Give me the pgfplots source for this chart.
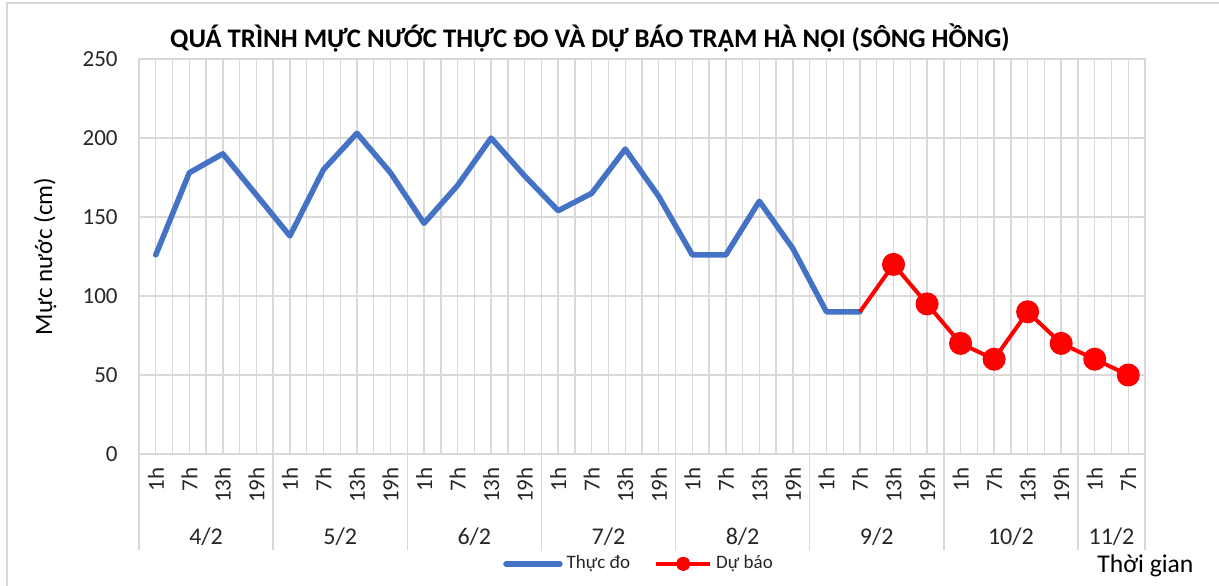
\documentclass[border=0pt]{standalone}
\usepackage{fontspec}
\setmainfont{Carlito}
\usepackage{pgfplots}
\pgfplotsset{compat=1.18}
\definecolor{gridgray}{HTML}{D9D9D9}
\definecolor{xlblue}{HTML}{4472C4}
\definecolor{txtgray}{HTML}{262626}
\begin{document}
\begin{tikzpicture}
\path[use as bounding box] (0,0) rectangle (609.5pt,292.5pt);
\clip (0,0) rectangle (609.5pt,292.5pt);
\draw[gridgray, line width=0.8pt] (3.5pt,-5pt) -- (3.5pt,291pt) -- (620pt,291pt);
\node[font=\bfseries\fontsize{13.4}{15}\selectfont, text=black] at (295pt,273.5pt) {QUÁ TRÌNH MỰC NƯỚC THỰC ĐO VÀ DỰ BÁO TRẠM HÀ NỘI (SÔNG HỒNG)};
\node[font=\fontsize{12.5}{14}\selectfont, text=black, rotate=90] at (22.5pt,164.25pt) {Mực nước (cm)};
\node[font=\fontsize{12.8}{14}\selectfont, text=black, anchor=west, inner sep=0pt] at (548.5pt,9.5pt) {Thời gian};
\begin{axis}[
  at={(69.5pt,65.5pt)}, anchor=south west,
  scale only axis, width=503pt, height=197.5pt,
  xmin=-0.5, xmax=29.5, ymin=0, ymax=250,
  ytick={0,50,...,250},
  xtick={0,...,29},
  xticklabels={1h,7h,13h,19h,1h,7h,13h,19h,1h,7h,13h,19h,1h,7h,13h,19h,1h,7h,13h,19h,1h,7h,13h,19h,1h,7h,13h,19h,1h,7h},
  minor xtick={-0.5,0.5,...,29.5},
  grid=both,
  major grid style={gridgray, line width=0.7pt},
  minor grid style={gridgray, line width=0.7pt},
  axis line style={gridgray, line width=0.7pt},
  major tick length=0pt, minor tick length=0pt,
  /pgf/number format/assume math mode=true,
  ticklabel style={font=\fontsize{11.5}{13}\selectfont, text=txtgray},
  xticklabel style={rotate=90, anchor=east, inner sep=0pt},
  xticklabel shift=6.5pt,
  yticklabel style={anchor=east, inner sep=0pt},
  yticklabel shift=10.5pt,
  clip=false,
  legend style={at={(0.498,-0.278)}, anchor=center, draw=none, fill=none,
    font=\fontsize{9.5}{11}\selectfont, text=txtgray,
    legend columns=2, /tikz/every even column/.append style={column sep=10pt}},
]
\addplot[xlblue, line width=2.75pt, line join=round, line cap=round,
  legend image code/.code={\draw[xlblue, line width=2.75pt, line cap=round] (0pt,0pt) -- (27pt,0pt);}]
  coordinates {(0,126) (1,178) (2,190) (3,164) (4,138) (5,180) (6,203) (7,178)
  (8,146) (9,170) (10,200) (11,176) (12,154) (13,165) (14,193) (15,163)
  (16,126) (17,126) (18,160) (19,130) (20,90) (21,90)};
\addlegendentry{Thực đo}
\addplot[red, line width=2pt, line join=round, mark=*, mark size=4.75pt,
  mark options={fill=red, draw=red}, mark indices={2,...,9},
  legend image code/.code={\draw[red, line width=2pt] (0pt,0pt) -- (27pt,0pt); \fill[red] (13.5pt,0pt) circle (2.6pt);}]
  coordinates {(21,90) (22,120) (23,95) (24,70) (25,60) (26,90) (27,70) (28,60) (29,50)};
\addlegendentry{Dự báo}
% group separators and labels
\foreach \s in {-0.5,3.5,7.5,11.5,15.5,19.5,23.5,27.5,29.5}{
  \edef\tmp{\noexpand\draw[gridgray, line width=0.7pt] (axis cs:\s,0) -- ++(0pt,-48pt);}\tmp
}
\foreach \c/\l in {1.5/4\slash 2,5.5/5\slash 2,9.5/6\slash 2,13.5/7\slash 2,17.5/8\slash 2,21.5/9\slash 2,25.5/10\slash 2,28.5/11\slash 2}{
  \edef\tmp{\noexpand\node[font=\noexpand\fontsize{12}{14}\noexpand\selectfont, text=txtgray] at (axis cs:\c,0) [yshift=-41.5pt] {\l};}\tmp
}
\end{axis}
\end{tikzpicture}
\end{document}
